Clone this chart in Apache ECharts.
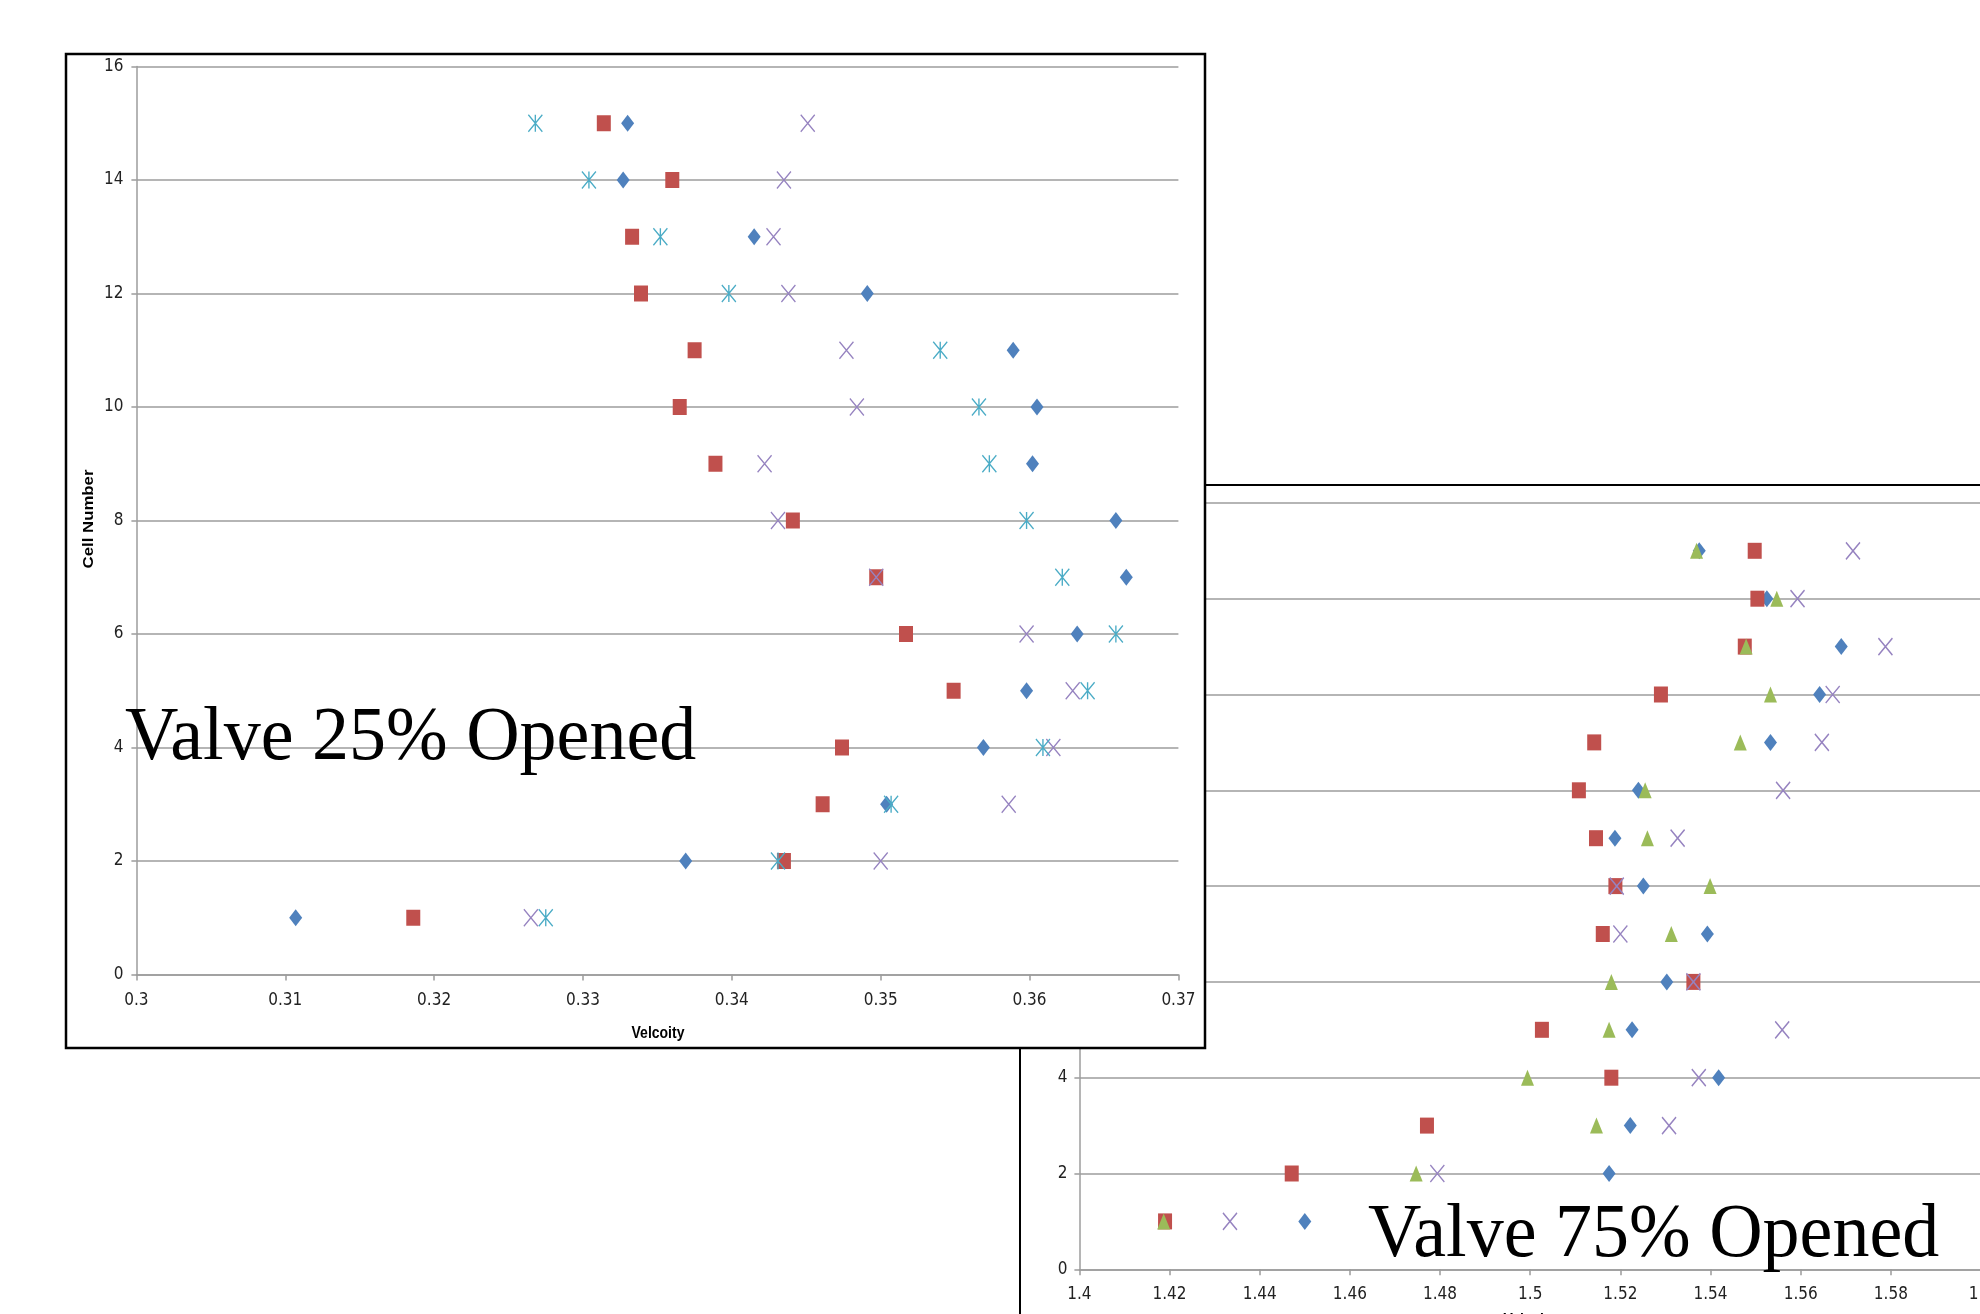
<!DOCTYPE html>
<html><head><meta charset="utf-8">
<script src="https://cdn.jsdelivr.net/npm/echarts@6/dist/echarts.min.js"></script>
<style>html,body{margin:0;padding:0;background:#fff;}#c{width:1980px;height:1314px;}</style>
</head><body><div id="c"></div>
<script>
// ---------- DATA ----------
const cells = [1,2,3,4,5,6,7,8,9,10,11,12,13,14,15];
const yTicks = [0,2,4,6,8,10,12,14,16];
// Valve 25% opened
const v25Ticks = [0.30,0.31,0.32,0.33,0.34,0.35,0.36,0.37];
const v25Diamond = [0.3107,0.3369,0.3504,0.3569,0.3598,0.3632,0.3665,0.3658,0.3602,0.3605,0.3589,0.3491,0.3415,0.3327,0.3330];
const v25Square  = [0.3186,0.3435,0.3461,0.3474,0.3549,0.3517,0.3497,0.3441,0.3389,0.3365,0.3375,0.3339,0.3333,0.3360,0.3314];
const v25Cross   = [0.3265,0.3500,0.3586,0.3616,0.3629,0.3598,0.3497,0.3431,0.3422,0.3484,0.3477,0.3438,0.3428,0.3435,0.3451];
const v25Star    = [0.3275,0.3431,0.3507,0.3609,0.3639,0.3658,0.3622,0.3598,0.3573,0.3566,0.3540,0.3398,0.3352,0.3304,0.3268];
// Valve 75% opened
const v75Ticks = [1.40,1.42,1.44,1.46,1.48,1.50,1.52,1.54,1.56,1.58,1.60];
const v75Diamond  = [1.4500,1.5175,1.5222,1.5418,1.5226,1.5303,1.5393,1.5251,1.5188,1.5240,1.5533,1.5642,1.5690,1.5525,1.5375];
const v75Square   = [1.4190,1.4471,1.4771,1.5180,1.5026,1.5362,1.5161,1.5189,1.5146,1.5108,1.5142,1.5290,1.5476,1.5504,1.5498];
const v75Triangle = [1.4187,1.4747,1.5147,1.4994,1.5175,1.5180,1.5313,1.5399,1.5260,1.5255,1.5466,1.5533,1.5479,1.5547,1.5369];
const v75Cross    = [1.4334,1.4794,1.5308,1.5374,1.5559,1.5362,1.5200,1.5192,1.5327,1.5561,1.5647,1.5671,1.5788,1.5593,1.5716];
const title25 = 'Valve 25% Opened';
const title75 = 'Valve 75% Opened';
const xTitle = 'Velcoity';
const yTitle = 'Cell Number';

// ---------- STYLE ----------
const BLUE='#4F81BD', RED='#C0504D', GREEN='#9BBB59', PURPLE='#9683C0', CYAN='#4BACC6';
const GRID='#9c9c9c';
const LBL = {fontFamily:'"Liberation Sans Narrow","DejaVu Sans Condensed","Liberation Sans",sans-serif', fontSize:17, color:'#222'};
const XPATH = 'path://M0,0L10,12M10,0L0,12';
const STAR  = 'path://M0,0L10,12M10,0L0,12M5,0L5,12';
const pairs = arr => arr.map((v,i)=>[v,cells[i]]);
const fmt = v => String(+v.toFixed(2));

function xAx(gi, ticks, z, margin){
  return {gridIndex:gi, type:'value', min:ticks[0], max:ticks[ticks.length-1], interval:+(ticks[1]-ticks[0]).toFixed(2), z:z,
    axisLine:{show:true,lineStyle:{color:GRID,width:1.5}},
    axisTick:{show:true,inside:false,length:6,lineStyle:{color:GRID,width:1.5}},
    axisLabel:Object.assign({margin:margin, formatter:fmt, hideOverlap:false, showMinLabel:true, showMaxLabel:true}, LBL),
    splitLine:{show:false}};
}
function yAx(gi, z, margin){
  return {gridIndex:gi, type:'value', min:yTicks[0], max:yTicks[yTicks.length-1], interval:yTicks[1]-yTicks[0], z:z,
    axisLine:{show:true,lineStyle:{color:GRID,width:1.5}},
    axisTick:{show:true,inside:false,length:5,lineStyle:{color:GRID,width:1.5}},
    axisLabel:Object.assign({margin:margin}, LBL),
    splitLine:{show:true,lineStyle:{color:GRID,width:1.5}}};
}
function sc(gi, data, symbol, size, color, z, stroke){
  return {type:'scatter', xAxisIndex:gi, yAxisIndex:gi, data:pairs(data), symbol:symbol, symbolSize:size, z:z,
    itemStyle: stroke ? {color:color, borderColor:color, borderWidth:1.5, opacity:1} : {color:color, opacity:1},
    emphasis:{disabled:true}};
}
function txt(x,y,text,font,opt){
  return Object.assign({type:'text', x:x, y:y, style:{text:text, font:font, fill:'#000',
    align:'center', verticalAlign:'middle', textAlign:'center', textVerticalAlign:'middle'}}, opt||{});
}
const BIG = '74px "Liberation Serif","Times New Roman",serif';
function bigTxt(x,y,text,z){
  return {type:'text', x:x, y:y, z:z, scaleY:1.04, style:{text:text, font:BIG, fill:'#000',
    align:'left', textAlign:'left', verticalAlign:'middle', textVerticalAlign:'middle'}};
}

const chart = echarts.init(document.getElementById('c'), null, {renderer:'canvas'});
chart.setOption({
  animation:false,
  backgroundColor:'#fff',
  grid:[
    {left:1079.4, top:502.9, width:901.6, height:766.4, containLabel:false, outerBoundsMode:'none'},
    {left:136.4, top:66.5, width:1042, height:908, containLabel:false, outerBoundsMode:'none'}
  ],
  xAxis:[ xAx(0, v75Ticks, 1, 17), xAx(1, v25Ticks, 4, 18) ],
  yAxis:[ yAx(0, 1, 12), yAx(1, 4, 13) ],
  series:[
    sc(0, v75Diamond, 'diamond', [13,17], BLUE, 2),
    sc(0, v75Square, 'rect', [14,16], RED, 2),
    sc(0, v75Triangle, 'triangle', [13,16], GREEN, 2),
    sc(0, v75Cross, XPATH, [14,17], PURPLE, 2, true),
    sc(1, v25Diamond, 'diamond', [13,17], BLUE, 5),
    sc(1, v25Square, 'rect', [14,16], RED, 5),
    sc(1, v25Cross, XPATH, [14,17], PURPLE, 5, true),
    sc(1, v25Star, STAR, [14,17], CYAN, 5, true)
  ],
  graphic:{elements:[
    // chart 2 frame (behind)
    {type:'rect', z:0, shape:{x:1020, y:485, width:1200, height:1000}, style:{fill:'#fff', stroke:'#000', lineWidth:2}},
    txt(1042, 886, yTitle, 'bold 14px "Liberation Sans",sans-serif', {z:1, rotation:Math.PI/2, scaleX:1.2}),
    txt(1530, 1320, xTitle, 'bold 14px "Liberation Sans",sans-serif', {z:1, scaleY:1.2}),
    bigTxt(1368, 1236, title75, 3),
    // chart 1 frame (front)
    {type:'rect', z:3, shape:{x:66, y:54, width:1139, height:994}, style:{fill:'#fff', stroke:'#000', lineWidth:2.5}},
    txt(89, 519, yTitle, 'bold 14px "Liberation Sans",sans-serif', {z:6, rotation:Math.PI/2, scaleX:1.2}),
    txt(658, 1033, xTitle, 'bold 14px "Liberation Sans",sans-serif', {z:6, scaleY:1.2}),
    bigTxt(125, 739, title25, 6)
  ]}
});
</script></body></html>
